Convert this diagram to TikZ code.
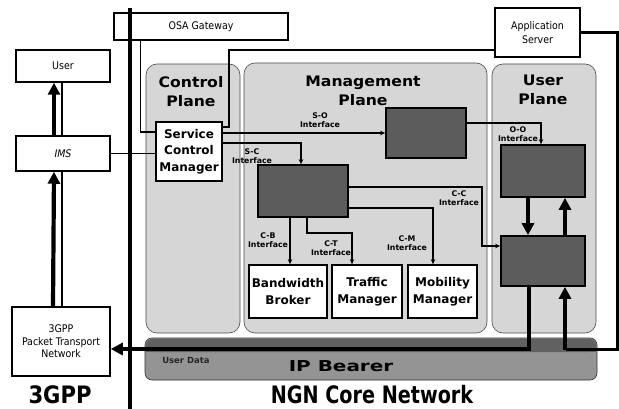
\documentclass[tikz,border=0pt]{standalone}
\usepackage{fontspec}
\setmainfont{DejaVu Sans}
\newfontfamily\condfont{DejaVu Sans Condensed}
\usetikzlibrary{arrows.meta,calc}
\definecolor{panelgray}{gray}{0.84}
\definecolor{darkbox}{gray}{0.36}
\definecolor{bearergray}{gray}{0.58}
\definecolor{bearertop}{gray}{0.38}
\tikzset{
  plainbox/.style={draw=black,line width=1.5pt,fill=white,align=center,
    font=\condfont\fontsize{10.5}{12.5}\selectfont,inner sep=1pt},
  mgrbox/.style={draw=black,line width=1.7pt,fill=white,align=center,
    font=\bfseries\fontsize{12}{16.5}\selectfont,inner sep=1pt},
  darkunit/.style={draw=black,line width=1.7pt,fill=darkbox},
  panel/.style={draw=black!70,line width=0.6pt,fill=panelgray,rounded corners=11pt},
  planetitle/.style={font=\bfseries\fontsize{14.5}{19}\selectfont,align=center,inner sep=0pt},
  iflabel/.style={font=\bfseries\fontsize{7.8}{9.5}\selectfont,align=center,inner sep=0pt},
  conn/.style={line width=1.4pt,-{Stealth[length=5pt,width=4.5pt]}},
  link/.style={line width=1.4pt},
  thickarrow/.style={line width=4.2pt,-{Triangle[length=12pt,width=12pt]}},
  thickline/.style={line width=3pt},
  domainlabel/.style={font=\bfseries\fontsize{24}{26}\selectfont,inner sep=0pt}
}
\newcommand{\widetitle}[1]{\scalebox{1.08}[1]{#1}}
\begin{document}
\begin{tikzpicture}[x=1pt,y=-1pt]
\useasboundingbox (0,0) rectangle (619,409);

% planes of the NGN core
\node[panel,minimum width=94pt,minimum height=269pt] (ctrlplane) at (193,198.5) {};
\node[panel,minimum width=243pt,minimum height=270pt] (mgmtplane) at (365.5,198) {};
\node[panel,minimum width=104pt,minimum height=269pt] (userplane) at (544,198.5) {};

\node[planetitle] (ctrltitle) at (191,92) {\widetitle{Control}\\\widetitle{Plane}};
\node[planetitle] (mgmttitle) at (363,91) {\widetitle{Management}\\\widetitle{Plane}};
\node[planetitle] (usertitle) at (543,90) {\widetitle{User}\\\widetitle{Plane}};

% IP bearer
\node[draw=black!80,line width=0.6pt,fill=bearergray,rounded corners=7pt,
      minimum width=452pt,minimum height=42pt] (bearer) at (371,359) {};
\fill[bearertop,rounded corners=7pt] (146,338.8) rectangle (596.2,352);
\fill[bearertop] (146,346) rectangle (596.2,352);
\node[font=\bfseries\fontsize{8.5}{10}\selectfont,text=black!85] (userdata) at (186,360) {User Data};
\node[font=\bfseries\fontsize{15}{17}\selectfont] (iplabel) at (341,366) {\scalebox{1.33}[1]{IP Bearer}};

% 3GPP side
\node[plainbox,minimum width=94pt,minimum height=32pt] (user) at (63,66) {User};
\node[plainbox,minimum width=94pt,minimum height=35pt,font=\condfont\itshape\fontsize{10.5}{12.5}\selectfont] (ims) at (63,153.5) {IMS};
\node[plainbox,minimum width=98pt,minimum height=69pt] (ptn) at (61,341.5) {3GPP\\Packet Transport\\Network};

% gateway and application server
\node[plainbox,minimum width=174pt,minimum height=27pt] (osa) at (201,26.5) {OSA Gateway};
\node[plainbox,minimum width=85pt,minimum height=49pt,text width=80pt] (app) at (537.5,32.5) {Application\\[2pt]Server};

% control and management functions
\node[mgrbox,minimum width=66pt,minimum height=59pt] (scm) at (189,151.5) {Service\\Control\\Manager};
\node[darkunit,minimum width=80pt,minimum height=50pt] (obox) at (426,133) {};
\node[darkunit,minimum width=90pt,minimum height=52pt] (cbox) at (303,191) {};
\node[mgrbox,minimum width=78pt,minimum height=53pt] (bb) at (288,291.5) {Bandwidth\\Broker};
\node[mgrbox,minimum width=70pt,minimum height=53pt] (tm) at (367,291.5) {Traffic\\Manager};
\node[mgrbox,minimum width=69pt,minimum height=53pt] (mm) at (442.5,291.5) {Mobility\\Manager};

% user plane functions
\node[darkunit,minimum width=84pt,minimum height=52pt] (uup) at (543,171) {};
\node[darkunit,minimum width=84pt,minimum height=50pt] (ulow) at (543,261) {};

% domain divider
\draw[line width=4.5pt] (130,8) -- (130,409);

% 3GPP signalling chain
\draw[thickarrow] ([xshift=-8pt]ptn.north) -- ([xshift=-9pt]ims.south);
\draw[link,line width=1.6pt] ([xshift=1pt]ptn.north) -- ([xshift=-1pt]ims.south);
\draw[thickarrow] ([xshift=-9pt]ims.north) -- ([xshift=-9pt]user.south);
\draw[link,line width=1.6pt] ([xshift=-1pt]ims.north) -- ([xshift=-1pt]user.south);
\draw[link,line width=1.6pt] (ims.east) -- (ims.east -| scm.west);

% gateway and application server links
\draw[link] ([xshift=27pt]osa.south west) |- ([yshift=-11pt]scm.north west);
\draw[link] ([yshift=-6pt]scm.north east) -- ++(6,0) |- ([yshift=-17.5pt]app.west);

% management interfaces
\draw[conn] (scm.east |- obox.west) -- (obox.west);
\node[iflabel] (solabel) at (320,120) {S-O\\Interface};
\draw[conn] ([yshift=-22pt]scm.north east) -| ([xshift=-2pt]cbox.north);
\node[iflabel] (sclabel) at (252,156) {S-C\\Interface};
\draw[conn] (bb.north |- cbox.south) ++(2,0) -- ([xshift=2pt]bb.north);
\node[iflabel] (cblabel) at (268,240) {C-B\\Interface};
\draw[conn] ([xshift=4pt]cbox.south) -- ++(0,15) -| ([xshift=-15pt]tm.north);
\node[iflabel] (ctlabel) at (331,248) {C-T\\Interface};
\draw[conn] ([yshift=-17pt]cbox.east) -| ([xshift=-9.5pt]mm.north);
\node[iflabel] (cmlabel) at (407,243) {C-M\\Interface};
\draw[conn] ([yshift=4pt]cbox.east) -- ++(133,0) |- ([yshift=15pt]ulow.west);
\node[iflabel] (cclabel) at (459,198) {C-C\\Interface};
\draw[conn] ([yshift=10pt]obox.east) -| ([xshift=-2pt]uup.north);
\node[iflabel] (oolabel) at (518,134) {O-O\\Interface};

% user plane flows
\draw[thickarrow] ([xshift=-15pt]uup.south) -- ([xshift=-15pt]ulow.north);
\draw[thickarrow] ([xshift=22pt]ulow.north) -- ([xshift=22pt]uup.south);
\draw[thickarrow] ([xshift=-14pt]ulow.south) |- ([yshift=-7.5pt]ptn.east);
\draw[thickline] (app.east) -- ++(37,0) -- ++(0,316.5) -- ++(-52,0);
\draw[thickarrow] ([xshift=22pt,yshift=-63pt]ulow.south) -- ([xshift=22pt]ulow.south);

% domain names
\node[domainlabel] (gpplabel) at (60,395) {\scalebox{0.88}[1]{3GPP}};
\node[domainlabel] (ngnlabel) at (372,395) {\scalebox{0.8}[1]{NGN Core Network}};
\end{tikzpicture}
\end{document}
